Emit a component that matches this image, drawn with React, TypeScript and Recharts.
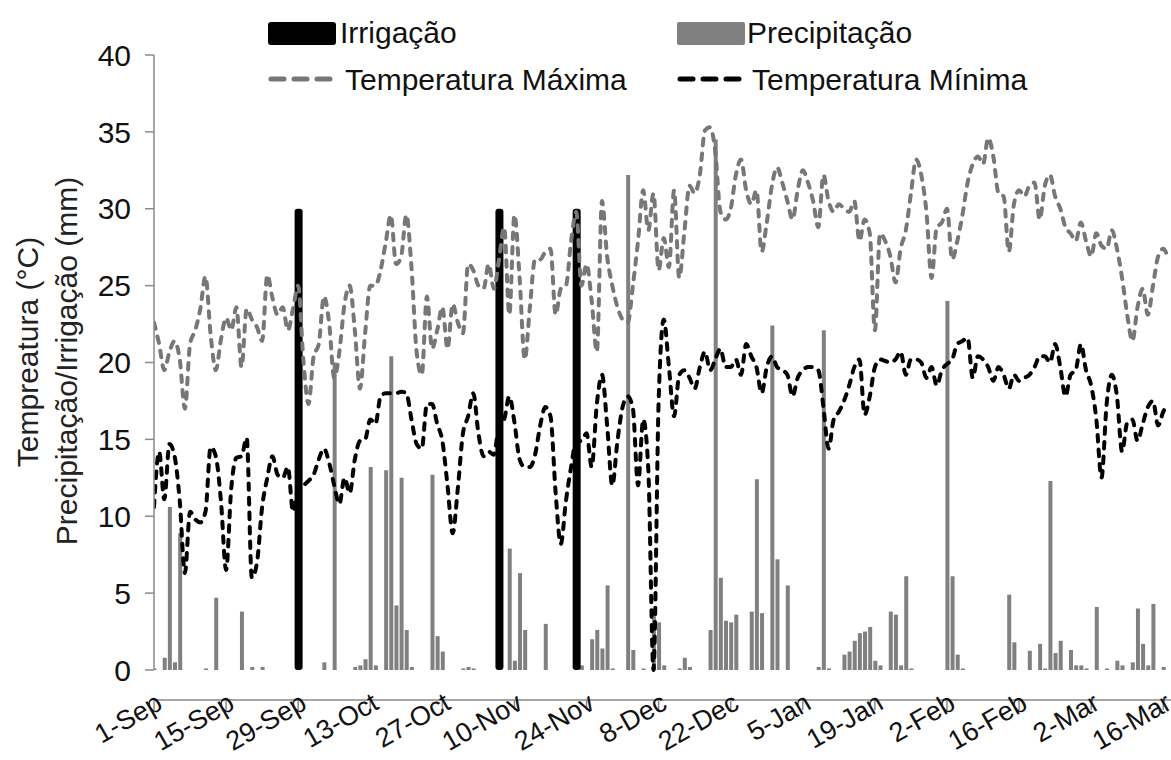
import React from "react";
import { ComposedChart, Bar, Line, XAxis, YAxis } from "recharts";

const FONT = "'Liberation Sans', Arial, sans-serif";

const tickLabels = ["1-Sep", "15-Sep", "29-Sep", "13-Oct", "27-Oct", "10-Nov", "24-Nov", "8-Dec", "22-Dec", "5-Jan", "19-Jan", "2-Feb", "16-Feb", "2-Mar", "16-Mar"];
const tickDays = [0, 14, 28, 42, 56, 70, 84, 98, 112, 126, 140, 154, 168, 182, 196];
const yTicks = [0, 5, 10, 15, 20, 25, 30, 35, 40];

// Temperatura Máxima (°C), one value per day from 1-Sep
const tempMax = [
  22.6, 21.2, 19.5, 20.7, 21.4, 20.2, 17.0, 21.2, 22.1, 23.5,
  25.6, 21.8, 19.5, 21.5, 22.9, 22.1, 23.6, 19.7, 23.5, 22.8,
  22.3, 21.4, 25.7, 24.2, 23.1, 23.6, 22.1, 23.5, 25.0, 20.2,
  17.3, 20.4, 21.2, 24.3, 22.6, 19.0, 20.7, 23.8, 25.0, 22.1,
  18.3, 21.9, 25.0, 25.0, 26.0, 27.8, 29.6, 26.4, 26.9, 29.6,
  26.2, 20.7, 19.2, 24.3, 20.9, 22.1, 23.6, 20.9, 23.8, 22.6,
  21.9, 26.4, 26.0, 25.0, 24.8, 26.4, 24.8, 26.7, 28.8, 23.1,
  29.6, 25.5, 20.2, 23.6, 26.7, 26.7, 27.2, 27.4, 23.1, 24.8,
  25.0, 27.9, 29.8, 25.0, 26.4, 24.0, 20.7, 30.5, 26.9, 25.0,
  23.6, 22.8, 22.6, 25.0, 27.9, 31.2, 28.6, 31.0, 26.0, 28.1,
  26.2, 31.2, 25.5, 28.5, 31.5, 31.0, 32.2, 35.1, 35.3, 33.7,
  29.8, 29.3, 30.0, 32.2, 33.2, 31.2, 30.3, 31.2, 27.2, 29.1,
  31.5, 32.7, 31.7, 30.5, 29.3, 31.2, 32.5, 31.7, 30.5, 28.8,
  32.2, 30.5, 29.8, 30.3, 30.0, 29.8, 30.5, 27.9, 29.3, 28.4,
  22.1, 28.4, 27.9, 26.9, 25.2, 27.4, 28.6, 31.0, 33.2, 32.2,
  29.8, 25.5, 28.8, 29.1, 30.0, 26.7, 27.9, 29.6, 31.7, 32.9,
  33.4, 32.9, 34.6, 33.4, 31.0, 30.8, 27.2, 30.3, 31.2, 30.8,
  31.5, 31.7, 29.3, 31.5, 32.2, 30.8, 30.0, 28.8, 28.4, 27.9,
  29.1, 27.9, 26.9, 28.4, 27.6, 27.4, 28.6, 27.4, 25.5, 23.1,
  21.4, 23.6, 24.8, 23.1, 25.0, 26.9, 27.4, 26.7,
];

// Temperatura Mínima (°C)
const tempMin = [
  10.6, 14.2, 11.1, 14.7, 13.9, 11.0, 6.3, 10.3, 9.8, 9.6,
  10.3, 14.5, 13.9, 11.0, 6.5, 11.8, 13.8, 13.9, 15.1, 6.0,
  7.0, 10.6, 12.5, 13.9, 12.7, 12.5, 13.2, 10.3, 11.8, 12.0,
  12.3, 12.7, 13.7, 14.4, 13.5, 12.0, 10.8, 12.5, 11.5, 13.7,
  14.9, 15.0, 16.3, 16.0, 17.8, 18.0, 18.0, 18.0, 18.1, 18.0,
  16.3, 14.7, 14.4, 17.3, 17.3, 16.0, 14.9, 12.0, 8.9, 11.8,
  15.4, 16.5, 18.0, 15.4, 13.9, 14.2, 14.0, 15.9, 16.3, 17.8,
  16.1, 13.7, 13.2, 13.2, 14.0, 15.9, 17.1, 16.5, 11.5, 8.2,
  11.0, 13.2, 14.9, 14.9, 15.4, 13.2, 17.3, 19.2, 15.9, 12.0,
  14.9, 17.1, 17.8, 17.0, 12.0, 16.3, 13.0, 0.0, 17.5, 22.8,
  19.7, 16.5, 19.2, 19.5, 19.0, 18.3, 19.7, 20.7, 19.5, 20.2,
  20.9, 19.7, 19.7, 20.2, 19.2, 21.2, 20.4, 19.7, 18.0, 19.7,
  20.4, 19.7, 19.5, 19.2, 17.8, 19.0, 19.5, 19.7, 19.7, 19.5,
  17.1, 14.4, 16.3, 16.8, 17.5, 18.5, 19.7, 20.2, 16.6, 17.8,
  19.7, 20.2, 20.1, 20.0, 20.2, 20.7, 19.2, 20.2, 20.2, 20.0,
  19.0, 19.7, 18.5, 19.5, 19.9, 20.2, 21.2, 21.4, 21.6, 19.0,
  20.4, 20.2, 19.7, 18.8, 19.7, 19.2, 18.3, 19.2, 18.8, 19.0,
  19.2, 19.7, 20.4, 20.4, 20.0, 21.2, 19.7, 17.8, 19.2, 19.5,
  21.2, 19.5, 18.5, 16.3, 12.5, 17.3, 19.2, 17.8, 14.2, 16.1,
  16.3, 14.9, 16.0, 17.1, 17.5, 15.9, 16.8, 17.3,
];

// Precipitação (mm): day index and amount
const precipDays = [
  0, 2, 3, 4, 5, 10, 12, 17, 19, 21, 33, 35, 39, 40, 41, 42, 43, 45, 46, 47, 48, 49, 50,
  54, 55, 56, 60, 61, 62, 69, 70, 71, 72, 76, 83, 85, 86, 87, 88, 89, 92, 93, 95, 97, 98, 99,
  102, 103, 104, 108, 109, 110, 111, 112, 113, 116, 117, 118, 120, 121, 123, 129, 130, 131,
  134, 135, 136, 137, 138, 139, 140, 141, 143, 144, 145, 146, 147, 154, 155, 156, 157,
  166, 167, 170, 172, 173, 174, 175, 176, 178, 179, 180, 181, 183, 185, 187, 188, 190,
  191, 192, 193, 194, 196,
];
const precipMm = [
  0.1, 0.8, 10.6, 0.5, 8.9, 0.1, 4.7, 3.8, 0.2, 0.2, 0.5, 20.0, 0.2, 0.3, 0.7, 13.2, 0.3, 13.0, 20.4, 4.2, 12.5, 2.6, 0.2,
  12.7, 2.2, 1.2, 0.1, 0.2, 0.1, 7.9, 0.6, 6.3, 2.6, 3.0, 0.3, 2.0, 2.6, 1.4, 5.5, 0.1, 32.2, 1.3, 0.1, 3.5, 3.1, 0.3,
  0.1, 0.8, 0.2, 2.6, 34.5, 6.0, 3.2, 3.1, 3.6, 3.8, 12.4, 3.7, 22.4, 7.2, 5.5, 0.2, 22.1, 0.1,
  1.0, 1.2, 1.9, 2.4, 2.5, 2.8, 0.6, 0.3, 3.8, 3.6, 0.3, 6.1, 0.1, 24.0, 6.1, 1.0, 0.1,
  4.9, 1.8, 1.25, 1.7, 0.1, 12.3, 1.1, 1.9, 1.3, 0.3, 0.3, 0.1, 4.1, 0.1, 0.6, 0.3, 0.5,
  4.0, 1.7, 0.3, 4.3, 0.2,
];

// Irrigação (mm)
const irrigDays = [28, 67, 82];
const irrigMm = [30, 30, 30];

const data = tempMax.map((v, i) => {
  const pi = precipDays.indexOf(i);
  const ii = irrigDays.indexOf(i);
  return {
    day: i,
    tmax: v,
    tmin: tempMin[i],
    precip: pi >= 0 ? precipMm[pi] : null,
    irr: ii >= 0 ? irrigMm[ii] : null,
  };
});

const XTick = (props: any) => {
  const { x, payload } = props;
  const idx = tickDays.indexOf(payload.value);
  const label = idx >= 0 ? tickLabels[idx] : "";
  const ax = x + 10;
  const ay = 708;
  return (
    <text x={ax} y={ay} textAnchor="end" transform={`rotate(-30 ${ax} ${ay})`} fontSize={27} fontFamily={FONT} fill="#111">
      {label}
    </text>
  );
};

const IrrigShape = (props: any) => {
  const { x, y, width, height } = props;
  if (!height || height <= 0) return null;
  const w = 8;
  const cx = x + width / 2;
  return <rect x={cx - w / 2} y={y} width={w} height={height} rx={3} ry={3} fill="#000" />;
};

const axisStroke = "#8a8a8a";

export default function App() {
  return (
    <div style={{ position: "absolute", left: 0, top: 0, width: 1171, height: 760, background: "#fff", overflow: "hidden" }}>
      <ComposedChart width={1171} height={760} data={data} margin={{ top: 55, right: 0, bottom: 0, left: 0 }}>
        <XAxis
          xAxisId="main"
          dataKey="day"
          type="number"
          domain={[0, 197.5]}
          ticks={tickDays}
          interval={0}
          allowDataOverflow
          height={90}
          axisLine={{ stroke: axisStroke, strokeWidth: 1.5 }}
          tickLine={{ stroke: axisStroke, strokeWidth: 1.5 }}
          tickSize={10}
          tick={<XTick />}
        />
        <XAxis xAxisId="irr" dataKey="day" type="number" domain={[0, 197.5]} allowDataOverflow hide />
        <YAxis
          domain={[0, 40]}
          ticks={yTicks}
          interval={0}
          width={154}
          axisLine={{ stroke: axisStroke, strokeWidth: 1.5 }}
          tickLine={{ stroke: axisStroke, strokeWidth: 1.5 }}
          tickSize={9}
          tickMargin={14}
          tick={{ fontSize: 30, fill: "#111", fontFamily: FONT }}
        />
        <Bar xAxisId="main" dataKey="precip" fill="#808080" barSize={4} isAnimationActive={false} />
        <Bar xAxisId="irr" dataKey="irr" fill="#000" barSize={4} shape={<IrrigShape />} isAnimationActive={false} />
        <Line
          xAxisId="main"
          dataKey="tmax"
          type="monotone"
          stroke="#777"
          strokeWidth={4}
          strokeDasharray="6.5 8"
          strokeLinecap="round"
          dot={false}
          activeDot={false}
          isAnimationActive={false}
        />
        <Line
          xAxisId="main"
          dataKey="tmin"
          type="monotone"
          stroke="#000"
          strokeWidth={4}
          strokeDasharray="6.5 8"
          strokeLinecap="round"
          dot={false}
          activeDot={false}
          isAnimationActive={false}
        />
      </ComposedChart>
      <svg width={1171} height={760} style={{ position: "absolute", left: 0, top: 0, pointerEvents: "none" }}>
        <g fontFamily={FONT} fontSize={30} fill="#111">
          <rect x={268} y={22} width={68} height={23} rx={3} fill="#000" />
          <text x={340} y={43}>Irrigação</text>
          <rect x={677} y={22} width={68} height={23} rx={2} fill="#808080" />
          <text x={747} y={43}>Precipitação</text>
          <line x1={271} y1={79} x2={334} y2={79} stroke="#777" strokeWidth={5} strokeDasharray="13 10" strokeLinecap="round" />
          <text x={345} y={90}>Temperatura Máxima</text>
          <line x1={680} y1={79} x2={742} y2={79} stroke="#000" strokeWidth={5} strokeDasharray="13 10" strokeLinecap="round" />
          <text x={752} y={90}>Temperatura Mínima</text>
          <text transform="translate(38 352) rotate(-90)" textAnchor="middle" fill="#222">Tempreatura (°C)</text>
          <text transform="translate(77 361) rotate(-90)" textAnchor="middle" fill="#222">Precipitação/Irrigação (mm)</text>
        </g>
      </svg>
    </div>
  );
}
